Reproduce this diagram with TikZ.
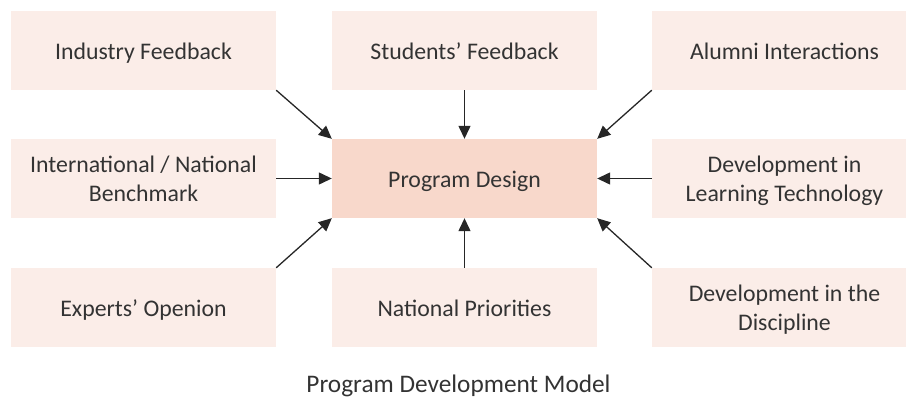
\documentclass[tikz,border=0pt]{standalone}
\usepackage{fontspec}
\setmainfont{Carlito}
\usetikzlibrary{arrows.meta}
\definecolor{boxfill}{RGB}{251,237,232}
\definecolor{centerfill}{RGB}{248,216,203}
\definecolor{txt}{RGB}{51,51,51}
\definecolor{arr}{RGB}{38,38,38}
\begin{document}
\begin{tikzpicture}[x=1pt,y=-1pt,
  sbox/.style={fill=boxfill, draw=none, minimum width=265pt, minimum height=79pt,
    inner sep=0pt, align=center, text=txt, font=\fontsize{23.8pt}{29.5pt}\selectfont,
    execute at begin node={\rule{0pt}{27.6pt}}, execute at end node=\strut},
  twoline/.style={execute at begin node={\rule{0pt}{55pt}}},
  cbox/.style={sbox, fill=centerfill},
  conn/.style={draw=arr, line width=1.3pt, -{Triangle[length=13pt,width=12pt]}}]
\useasboundingbox (0,0) rectangle (906,398);
\node[sbox] (ind) at (143.5,50.5) {Industry Feedback};
\node[sbox] (stu) at (464.5,50.5) {Students’ Feedback};
\node[sbox] (alu) at (784.5,50.5) {Alumni Interactions};
\node[sbox, twoline] (inb) at (143.5,178.5) {International / National\\Benchmark};
\node[cbox] (pd) at (464.5,178.5) {Program Design};
\node[sbox, twoline] (dlt) at (784.5,178.5) {Development in\\Learning Technology};
\node[sbox] (exp) at (143.5,307.5) {Experts’ Openion};
\node[sbox] (nat) at (464.5,307.5) {National Priorities};
\node[sbox, twoline] (ddi) at (784.5,307.5) {Development in the\\Discipline};
\node[anchor=base, inner sep=0pt, text=txt, font=\fontsize{25.3pt}{30pt}\selectfont] (title) at (458.5,392.5) {Program Development Model};
\draw[conn] (ind.south east) -- (pd.north west);
\draw[conn] (stu.south) -- (pd.north);
\draw[conn] (alu.south west) -- (pd.north east);
\draw[conn] (inb.east) -- (pd.west);
\draw[conn] (dlt.west) -- (pd.east);
\draw[conn] (exp.north east) -- (pd.south west);
\draw[conn] (nat.north) -- (pd.south);
\draw[conn] (ddi.north west) -- (pd.south east);
\end{tikzpicture}
\end{document}
